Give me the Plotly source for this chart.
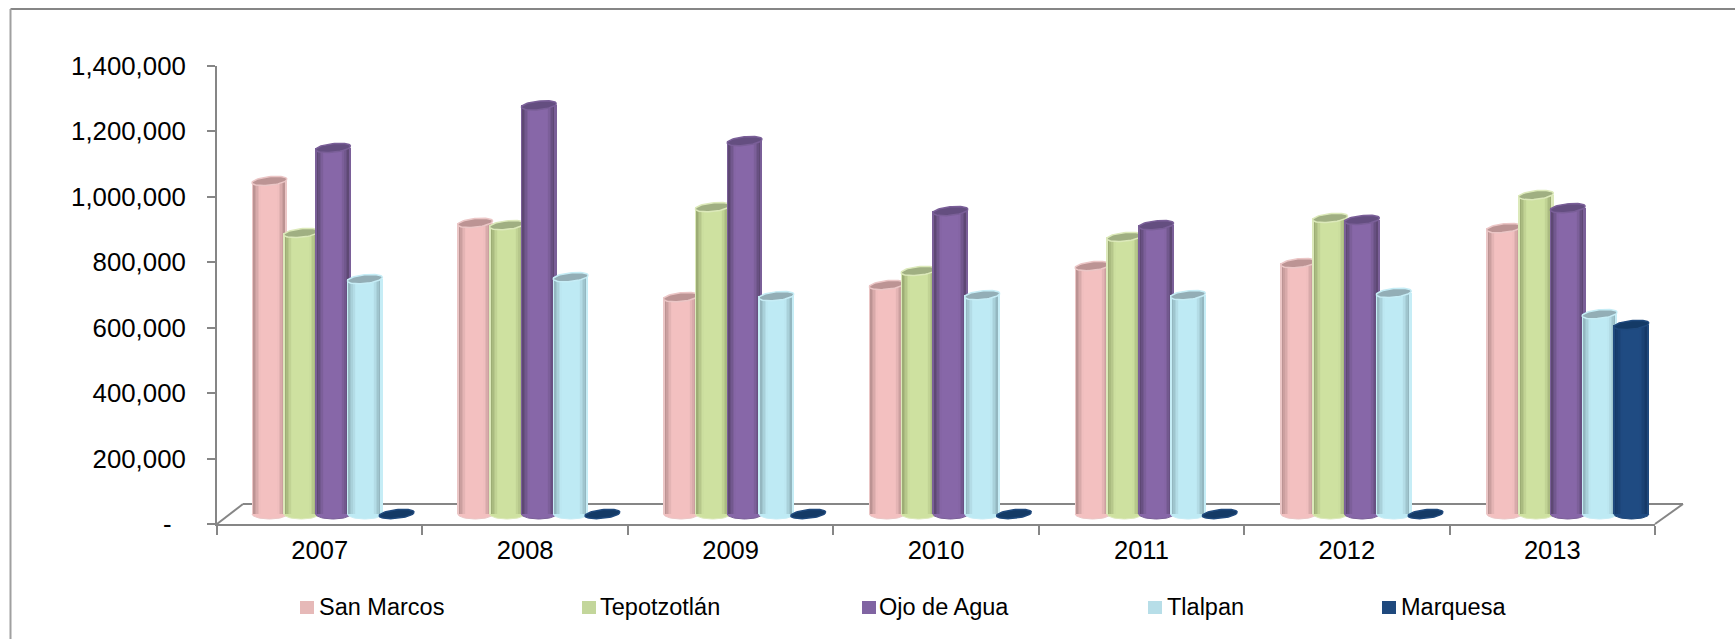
import numpy as np
import plotly.graph_objects as go

W, H = 1735, 639
YEARS = ["2007", "2008", "2009", "2010", "2011", "2012", "2013"]
SERIES = ["San Marcos", "Tepotzotlán", "Ojo de Agua", "Tlalpan", "Marquesa"]
SAN_MARCOS = [1018000, 890000, 663000, 700000, 758000, 767000, 874000]
TEPOTZOTLAN = [859000, 883000, 938000, 743000, 847000, 905000, 975000]
OJO_DE_AGUA = [1119000, 1249000, 1140000, 926000, 883000, 899000, 935000]
TLALPAN = [718000, 724000, 666000, 669000, 669000, 676000, 611000]
MARQUESA = [0, 0, 0, 0, 0, 0, 578000]
VALUES = [SAN_MARCOS, TEPOTZOTLAN, OJO_DE_AGUA, TLALPAN, MARQUESA]
Y_TICKS = [0, 200000, 400000, 600000, 800000, 1000000, 1200000, 1400000]
Y_LABELS = ["-\u00a0\u00a0", "200,000", "400,000", "600,000", "800,000", "1,000,000", "1,200,000", "1,400,000"]

LEGEND_COLORS = ["#E6B9B8", "#C3D69B", "#8064A2", "#B7DEE8", "#1F497D"]
FACE = ["#F3C0C0", "#CEE1A0", "#8767A8", "#BEEAF4", "#1F4B82"]
DARK = ["#A07C7C", "#84925F", "#483859", "#7E9DA5", "#11305A"]
TOP = ["#BC9494", "#A0AF82", "#644E80", "#93AEB6", "#143A66"]
RIM = ["#EBC6C6", "#DCE9BA", "#7A5F98", "#C6EDF6", "#1F497D"]
LEGEND_SQUARE_X = [300, 582, 862, 1148, 1382]
LEGEND_TEXT_X = [318, 599, 878, 1166, 1400]

# pixel geometry of the plot frame
AX_L, AX_R, Y0, Y_TOP = 217, 1655, 524, 66
DX, DY = 13, 10          # mid-depth shift of the columns
PAD = 30                 # room below zero for the round column feet
EXTRA = 2.5              # the column bands are a little wider than the tick bands
BAND = (AX_R + EXTRA - AX_L) / 7
PITCH = 31.8 / BAND      # column pitch in category units
BARW = 35 / BAND
YPX = (Y0 - Y_TOP) / 1400000
FONT = "Liberation Sans, Arial, sans-serif"
GRAY = "#868686"
N = 23
APX, BPX, TILT, FOOT = 17.5, 4.3, 0.1, 5.0


def mix(a, b, t):
    ca = [int(a[i:i + 2], 16) for i in (1, 3, 5)]
    cb = [int(b[i:i + 2], 16) for i in (1, 3, 5)]
    return "#%02X%02X%02X" % tuple(round(x + (y - x) * t) for x, y in zip(ca, cb))


fig = go.Figure()
# carrier for the category axis
fig.add_trace(go.Bar(x=YEARS, y=[None] * 7, xaxis="x", yaxis="y", showlegend=False, hoverinfo="skip"))

xs = np.arange(len(YEARS))
for s, (name, vals) in enumerate(zip(SERIES, VALUES)):
    ax = s + 2
    xa, ya = f"x{ax}", f"y{ax}"
    start = -0.5 + (252 - AX_L - DX) / BAND + s * PITCH
    v = np.array(vals, dtype=float)
    stripw = BARW / N
    a = BARW / 2
    # feet first, so that they only show below the shaft
    for i, val in enumerate(vals):
        if val > 0:
            cx = xs[i] + start + a
            t2 = np.linspace(np.pi, 2 * np.pi, 30)
            fig.add_trace(go.Scatter(
                x=cx + np.cos(t2) * a, y=np.sin(t2) * FOOT / YPX, xaxis=xa, yaxis=ya, mode="lines",
                fill="toself", fillcolor=FACE[s], line=dict(color=RIM[s], width=1),
                showlegend=False, hoverinfo="skip"))
    for k in range(N):
        u = (k + 0.5) / N
        edge = min(u, 1 - u) * 2
        shade = min(1.0, edge / 0.5) ** 0.8
        col = RIM[s] if k == 0 or k == N - 1 else mix(DARK[s], FACE[s], shade)
        fig.add_trace(go.Bar(
            x=xs, y=v, xaxis=xa, yaxis=ya, width=stripw * 1.15, offset=start + k * stripw,
            marker=dict(color=col, line=dict(width=0)), showlegend=False, hoverinfo="skip",
            name=name))
    # column tops
    for i, val in enumerate(vals):
        cx = xs[i] + start + a
        t = np.linspace(0, 2 * np.pi, 60)
        ex = np.cos(t)
        ey = np.sin(t) * BPX + ex * APX * TILT
        fig.add_trace(go.Scatter(
            x=cx + ex * a, y=val + ey / YPX, xaxis=xa, yaxis=ya, mode="lines",
            fill="toself", fillcolor=TOP[s], line=dict(color=RIM[s], width=1.5),
            showlegend=False, hoverinfo="skip"))


def hline(x0, y0, x1, y1):
    return dict(type="line", xref="paper", yref="paper", x0=x0 / W, x1=x1 / W, y0=1 - y0 / H, y1=1 - y1 / H,
                line=dict(color=GRAY, width=2), layer="below")


shapes = [
    dict(type="line", xref="paper", yref="paper", x0=10.5 / W, x1=1, y0=1 - 9 / H, y1=1 - 9 / H,
         line=dict(color=GRAY, width=2), layer="below"),
    dict(type="line", xref="paper", yref="paper", x0=10.5 / W, x1=10.5 / W, y0=1 - 9 / H, y1=0,
         line=dict(color="#A0A0A0", width=2), layer="below"),
    hline(243, 504, 1683, 504),
    hline(AX_L, Y0, 243, 504),
    hline(AX_R, Y0, 1683, 504),
]
annotations = []
for s, name in enumerate(SERIES):
    shapes.append(dict(type="rect", xref="paper", yref="paper",
                       x0=LEGEND_SQUARE_X[s] / W, x1=(LEGEND_SQUARE_X[s] + 14) / W,
                       y0=1 - 614 / H, y1=1 - 601 / H,
                       fillcolor=LEGEND_COLORS[s], line=dict(width=0), layer="above"))
    annotations.append(dict(text=name, xref="paper", yref="paper", x=LEGEND_TEXT_X[s] / W, y=1 - 607 / H,
                            xanchor="left", yanchor="middle", showarrow=False, borderpad=0,
                            font=dict(size=23.5, family=FONT, color="black")))

layout = dict(
    width=W, height=H, margin=dict(l=0, r=0, t=0, b=0, autoexpand=False), showlegend=False,
    paper_bgcolor="white", plot_bgcolor="rgba(0,0,0,0)", barmode="overlay", bargap=0,
    font=dict(family=FONT, color="black", size=25),
    xaxis=dict(domain=[AX_L / W, AX_R / W], type="category", categoryorder="array", categoryarray=YEARS,
               range=[-0.5, 6.5], anchor="y", tickson="boundaries", ticks="outside", ticklen=9, tickwidth=2,
               tickcolor=GRAY, showline=True, linecolor=GRAY, linewidth=2, showgrid=False,
               zeroline=False, tickfont=dict(size=25.5, family=FONT), ticklabelstandoff=2, fixedrange=True),
    yaxis=dict(domain=[1 - Y0 / H, 1 - Y_TOP / H], range=[0, 1400000], anchor="x", tickvals=Y_TICKS,
               ticktext=Y_LABELS, ticks="outside", ticklen=8, tickwidth=2, tickcolor=GRAY, showline=True,
               linecolor=GRAY, linewidth=2, showgrid=False, zeroline=False,
               tickfont=dict(size=25.8, family=FONT), ticklabelstandoff=16, fixedrange=True),
    shapes=shapes, annotations=annotations,
)
for s in range(5):
    ax = s + 2
    layout[f"xaxis{ax}"] = dict(domain=[(AX_L + DX) / W, (AX_R + DX + EXTRA) / W], range=[-0.5, 6.5], visible=False,
                                anchor=f"y{ax}", fixedrange=True, showgrid=False, zeroline=False)
    layout[f"yaxis{ax}"] = dict(domain=[1 - (Y0 - DY + PAD) / H, 1 - (Y_TOP - DY) / H],
                                range=[-PAD / YPX, 1400000], visible=False,
                                anchor=f"x{ax}", fixedrange=True, showgrid=False, zeroline=False)
fig.update_layout(**layout)
fig.write_html("out.html", config={"displayModeBar": False},
               post_script="document.body.style.margin='0';document.documentElement.style.overflow='hidden';")
